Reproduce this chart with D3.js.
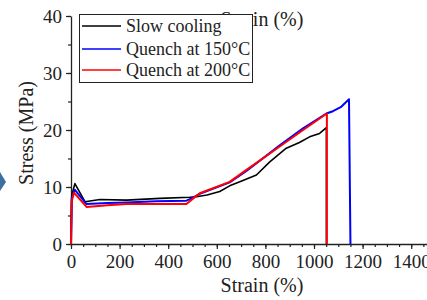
<!DOCTYPE html>
<html>
<head>
<meta charset="utf-8">
<script src="https://cdn.jsdelivr.net/npm/d3@7"></script>
<style>
  body { margin: 0; background: #fff; }
  text { font-family: "Liberation Serif", "Times New Roman", serif; fill: #222; }
</style>
</head>
<body>
<div id="chart"></div>
<script>
// Series data (strain %, stress MPa)
var slowStrain = [0, 3, 16, 58, 119, 229, 366, 489, 516, 560, 612, 653, 700, 763, 818, 886, 940, 982, 1023, 1051, 1051];
var slowStress = [0, 8.5, 10.6, 7.4, 7.8, 7.7, 8.0, 8.2, 8.3, 8.6, 9.2, 10.2, 11.0, 12.1, 14.4, 16.8, 17.8, 18.8, 19.4, 20.4, 0];

var q150Strain = [0, 3, 16, 64, 150, 229, 350, 475, 496, 530, 653, 722, 859, 955, 1051, 1078, 1110, 1144, 1150];
var q150Stress = [0, 8.0, 9.5, 7.0, 7.2, 7.3, 7.5, 7.6, 8.0, 8.8, 10.8, 12.8, 17.3, 20.3, 22.9, 23.3, 24.0, 25.4, 0];

var q200Strain = [0, 3, 12, 64, 150, 229, 350, 475, 503, 530, 653, 722, 859, 955, 1053, 1053];
var q200Stress = [0, 7.5, 9.0, 6.5, 6.8, 7.0, 7.0, 7.0, 8.0, 8.9, 10.9, 13.0, 17.1, 20.0, 22.9, 0];

var seriesNames = ["Slow cooling", "Quench at 150°C", "Quench at 200°C"];
var seriesColors = ["#000000", "#0000ff", "#ff0000"];

var xMajorTicks = [0, 200, 400, 600, 800, 1000, 1200, 1400];
var yMajorTicks = [0, 10, 20, 30, 40];

var width = 427, height = 300;

var svg = d3.select("#chart")
  .append("svg")
  .attr("width", width)
  .attr("height", height);

// Scales
var xScale = d3.scaleLinear().domain([0, 1500]).range([71, 435.5]);
var yScale = d3.scaleLinear().domain([0, 40]).range([244, 16]);

// Small arrow-like diamond cut at the left edge
svg.append("path")
  .attr("d", "M-6,182 L0,172 L6,182 L0,191 Z")
  .attr("fill", "#3e6fa3");

// Minor ticks
svg.append("g")
  .attr("transform", "translate(0,244)")
  .call(d3.axisBottom(xScale).tickValues(d3.range(0, 1501, 50)).tickSize(3).tickFormat(""))
  .call(function(g) { g.select(".domain").remove(); });
svg.append("g")
  .attr("transform", "translate(71,0)")
  .call(d3.axisLeft(yScale).tickValues(d3.range(0, 41, 5)).tickSize(3).tickFormat(""))
  .call(function(g) { g.select(".domain").remove(); });

// Major axes
var xAxis = svg.append("g")
  .attr("transform", "translate(0,244)")
  .call(d3.axisBottom(xScale).tickValues(xMajorTicks).tickSize(5).tickPadding(6)
    .tickSizeOuter(0).tickFormat(d3.format("d")));
xAxis.selectAll("text").style("font-size", "19px").style("font-family", "Liberation Serif").style("fill", "#222");

var yAxis = svg.append("g")
  .attr("transform", "translate(71,0)")
  .call(d3.axisLeft(yScale).tickValues(yMajorTicks).tickSize(5).tickPadding(4).tickSizeOuter(0));
yAxis.selectAll("text").style("font-size", "19px").style("font-family", "Liberation Serif").style("fill", "#222");

svg.selectAll(".domain").attr("stroke", "#222").attr("stroke-width", 1.3);
svg.selectAll(".tick line").attr("stroke", "#222").attr("stroke-width", 1.2);

// Axis titles
svg.append("text")
  .attr("x", 262)
  .attr("y", 292)
  .style("text-anchor", "middle")
  .style("font-size", "20px")
  .text("Strain (%)");

svg.append("text")
  .attr("x", 262)
  .attr("y", 26)
  .style("text-anchor", "middle")
  .style("font-size", "20px")
  .text("Strain (%)");

svg.append("text")
  .attr("transform", "translate(33,133) rotate(-90)")
  .style("text-anchor", "middle")
  .style("font-size", "20px")
  .text("Stress (MPa)");

// Lines
var line = d3.line()
  .x(function(d) { return xScale(d[0]); })
  .y(function(d) { return yScale(d[1]); });

var series = [
  d3.zip(slowStrain, slowStress),
  d3.zip(q150Strain, q150Stress),
  d3.zip(q200Strain, q200Stress)
];
var widths = [1.6, 2, 2];

series.forEach(function(s, i) {
  svg.append("path")
    .datum(s)
    .attr("fill", "none")
    .attr("stroke", seriesColors[i])
    .attr("stroke-width", widths[i])
    .attr("stroke-linejoin", "round")
    .attr("d", line);
});

// Legend
var legend = svg.append("g").attr("transform", "translate(79,14)");
legend.append("rect")
  .attr("x", 0.5).attr("y", 0.5)
  .attr("width", 173).attr("height", 68)
  .attr("fill", "#fff")
  .attr("stroke", "#222")
  .attr("stroke-width", 1);

var items = legend.selectAll(".legend")
  .data(seriesNames)
  .enter()
  .append("g")
  .attr("transform", function(d, i) { return "translate(0," + [12, 35, 56][i] + ")"; });

items.append("line")
  .attr("x1", 3).attr("x2", 42)
  .attr("stroke", function(d, i) { return seriesColors[i]; })
  .attr("stroke-width", 1.6);

items.append("text")
  .attr("x", 47)
  .attr("y", 6)
  .style("font-size", "18px")
  .text(function(d) { return d; });
</script>
</body>
</html>
